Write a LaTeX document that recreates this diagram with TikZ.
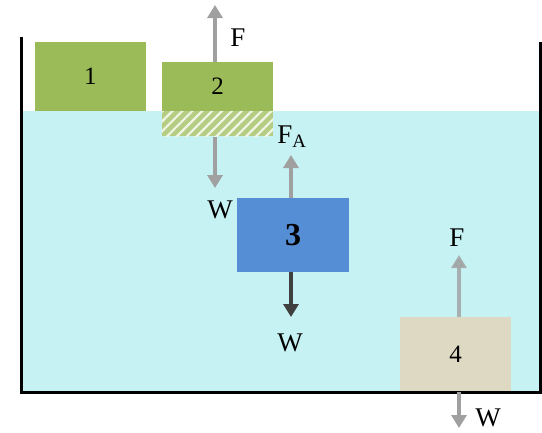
\documentclass[tikz,border=0pt]{standalone}
\usepackage{fontspec}
\setmainfont{Liberation Serif}
\usetikzlibrary{arrows.meta,patterns.meta}
\definecolor{water}{RGB}{198,242,244}
\definecolor{grassgreen}{RGB}{155,187,89}
\definecolor{hatchgreen}{RGB}{180,205,130}
\definecolor{steelblue}{RGB}{85,142,213}
\definecolor{sand}{RGB}{221,217,195}
\definecolor{arrowgray}{RGB}{160,160,160}
\tikzset{
  block/.style={minimum width=111pt, inner sep=0pt, font=\fontsize{25}{27}\selectfont},
  force/.style={draw=arrowgray, line width=4pt, -{Triangle[width=15pt,length=13pt]}},
  label/.style={font=\fontsize{27}{29}\selectfont, inner sep=0pt}
}
\begin{document}
\begin{tikzpicture}[x=1pt,y=-1pt]
      \useasboundingbox (0,0) rectangle (542,432);
      % water in the tank
      \fill[water] (21,111) rectangle (540,392);
      % blocks
      \node[block, fill=grassgreen, minimum height=69pt] (blk1) at (90.5,76.5) {1};
      \node[block, fill=grassgreen, minimum height=49pt] (blk2) at (217.5,86.5) {2};
      \node[block, fill=hatchgreen, minimum height=25pt, anchor=north] (sub2) at (blk2.south) {};
      \fill[pattern={Lines[angle=45,distance=7pt,line width=2.2pt]}, pattern color=white!80!hatchgreen]
        (sub2.south west) rectangle (sub2.north east);
      \node[block, fill=steelblue, minimum width=112pt, minimum height=74pt,
            font=\bfseries\fontsize{32}{34}\selectfont] (blk3) at (293,235) {3};
      \node[block, fill=sand, minimum height=75pt] (blk4) at (455.5,354.5) {4};
      % tank walls
      \draw[line width=3pt] (21,37) -- (21,392.5) -- (540.5,392.5) -- (540.5,42);
      % force arrows
      \coordinate (top2) at (215,5);
      \coordinate (bot2) at (215,188);
      \coordinate (top3) at (291,155);
      \coordinate (bot3) at (291,317);
      \coordinate (top4) at (459,255);
      \coordinate (bot4) at (459,428);
      \draw[force] (blk2.north -| top2) -- (top2);
      \draw[force] (sub2.south -| bot2) -- (bot2);
      \draw[force] (blk3.north -| top3) -- (top3);
      \draw[force, draw=black!75] (blk3.south -| bot3) -- (bot3);
      \draw[force, opacity=0.8] (blk4.north -| top4) -- (top4);
      \draw[force] (blk4.south -| bot4) -- (bot4);
      % labels
      \node[label] (lf2) at (238,38) {F};
      \node[label] (lw2) at (220,210) {W};
      \node[label] (lfa3) at (292,137) {F\textsubscript{A}};
      \node[label] (lw3) at (290,343) {W};
      \node[label] (lf4) at (457,238) {F};
      \node[label] (lw4) at (488,418) {W};
\end{tikzpicture}
\end{document}
